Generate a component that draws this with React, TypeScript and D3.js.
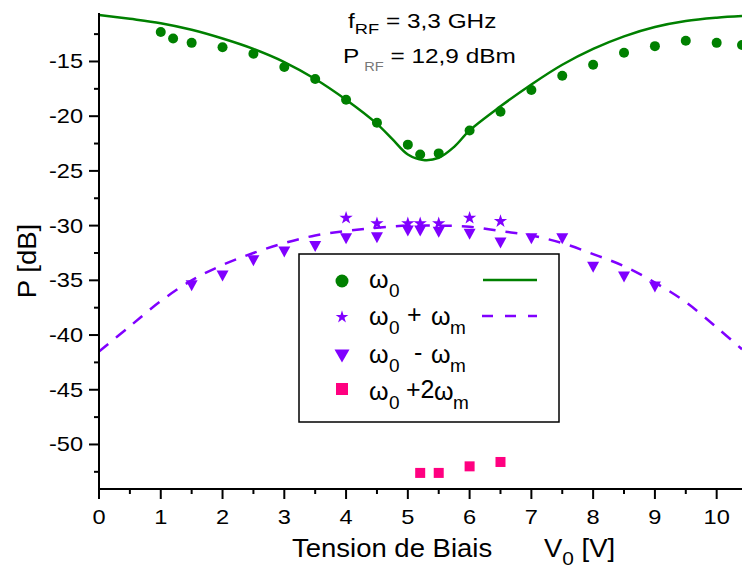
import React from "react";
import * as d3 from "d3";

// ---------- data ----------
const omega0X = [1, 1.2, 1.5, 2, 2.5, 3, 3.5, 4, 4.5, 5, 5.2, 5.5, 6, 6.5, 7, 7.5, 8, 8.5, 9, 9.5, 10, 10.41];
const omega0Y = [-12.3, -12.9, -13.3, -13.7, -14.3, -15.5, -16.6, -18.5, -20.6, -22.6, -23.5, -23.4, -21.3, -19.6, -17.6, -16.3, -15.3, -14.2, -13.6, -13.1, -13.3, -13.5];

const fitGreenX = [0, 0.5, 1, 1.5, 2, 2.5, 3, 3.5, 4, 4.5, 4.75, 5, 5.25, 5.5, 5.75, 6, 6.5, 7, 7.5, 8, 8.5, 9, 9.5, 10, 10.41];
const fitGreenY = [-10.75, -11.1, -11.5, -12.1, -12.9, -13.85, -15.05, -16.6, -18.5, -20.7, -22.1, -23.5, -24.0, -23.8, -22.8, -21.3, -19.1, -17.1, -15.3, -13.85, -12.7, -11.85, -11.3, -11.0, -10.85];

const plusX = [4, 4.5, 5, 5.2, 5.5, 6, 6.5];
const plusY = [-29.3, -29.8, -29.8, -29.8, -29.8, -29.3, -29.6];

const minusX = [1.5, 2, 2.5, 3, 3.5, 4, 4.5, 5, 5.2, 5.5, 6, 6.5, 7, 7.5, 8, 8.5, 9];
const minusY = [-35.5, -34.6, -33.2, -32.4, -31.9, -31.2, -31.1, -30.5, -30.5, -30.6, -30.8, -31.6, -31.2, -31.2, -33.8, -34.7, -35.6];

const plus2X = [5.2, 5.5, 6, 6.5];
const plus2Y = [-52.6, -52.6, -52.0, -51.6];

const fitPurpleX = [0, 0.5, 1, 1.5, 2, 2.5, 3, 3.5, 4, 4.5, 5, 5.5, 6, 6.5, 7, 7.5, 8, 8.5, 9, 9.5, 10, 10.41];
const fitPurpleY = [-41.5, -39.2, -36.9, -35.0, -33.6, -32.5, -31.6, -30.9, -30.5, -30.2, -30.0, -30.0, -30.1, -30.5, -30.9, -31.6, -32.6, -33.7, -35.2, -37.0, -39.3, -41.3];

const xMajorTicks = [0, 1, 2, 3, 4, 5, 6, 7, 8, 9, 10];
const xMinorTicks = [0.5, 1.5, 2.5, 3.5, 4.5, 5.5, 6.5, 7.5, 8.5, 9.5];
const yMajorTicks = [-50, -45, -40, -35, -30, -25, -20, -15];
const yMinorTicks = [-52.5, -47.5, -42.5, -37.5, -32.5, -27.5, -22.5, -17.5, -12.5];

const xDomain = [0, 10.41];
const yDomain = [-54.07, -10.57];

// ---------- styles ----------
const GREEN = "#008000";
const PURPLE = "#8000ff";
const PINK = "#ff0080";
const FONT = "'Liberation Sans', Arial, Helvetica, sans-serif";

const W = 742;
const H = 568;
const left = 99;
const right = 742;
const top = 13;
const bottom = 489;

function tri(cx: number, cy: number, w: number, h: number) {
  return `M${cx - w / 2},${cy - h / 2}L${cx + w / 2},${cy - h / 2}L${cx},${cy + h / 2}Z`;
}

function SText(props: { x: number; y: number; sx?: number; size: number; anchor?: string; children: any; fill?: string; rotate?: number }) {
  const { x, y, sx = 1.15, size, anchor = "start", children, fill = "#000", rotate = 0 } = props;
  return (
    <text
      transform={`translate(${x},${y}) rotate(${rotate}) scale(${sx},1)`}
      fontFamily={FONT}
      fontSize={size}
      textAnchor={anchor}
      fill={fill}
    >
      {children}
    </text>
  );
}

function T(props: { x: number; y: number; size: number; children: any }) {
  return (
    <text x={props.x} y={props.y} fontFamily={FONT} fontSize={props.size} fill="#000">
      {props.children}
    </text>
  );
}

export default function App() {
  const x = d3.scaleLinear().domain(xDomain).range([left, right]);
  const y = d3.scaleLinear().domain(yDomain).range([bottom, top]);

  const greenLine = d3
    .line<number>()
    .x((_, i) => x(fitGreenX[i]))
    .y((d) => y(d))
    .curve(d3.curveCatmullRom.alpha(0.5))(fitGreenY) as string;

  const purpleLine = d3
    .line<number>()
    .x((_, i) => x(fitPurpleX[i]))
    .y((d) => y(d))
    .curve(d3.curveCatmullRom.alpha(0.5))(fitPurpleY) as string;

  const starPlot = d3.symbol().type(d3.symbolStar).size(55)() as string;
  const starLegend = d3.symbol().type(d3.symbolStar).size(50)() as string;

  // legend geometry
  const lgX = 299, lgY = 254, lgW = 260, lgH = 168;
  const rowY = [281, 317, 356, 389];
  const mkX = 342;
  const txX = 369;
  const subX = 389;
  const big = 25;
  const sub = 19;

  return (
    <div style={{ position: "absolute", left: 0, top: 0 }}>
      <svg width={W} height={H} style={{ display: "block", background: "#fff" }}>
        <rect x={0} y={0} width={W} height={H} fill="#fff" />

        {/* fit lines */}
        <path d={greenLine} fill="none" stroke={GREEN} strokeWidth={2.5} />
        <path d={purpleLine} fill="none" stroke={PURPLE} strokeWidth={2.5} strokeDasharray="12,10" />

        {/* omega0 circles */}
        {omega0Y.map((v, i) => (
          <circle key={"g" + i} cx={x(omega0X[i])} cy={y(v)} r={5} fill={GREEN} />
        ))}
        {/* omega0 - omega_m triangles */}
        {minusY.map((v, i) => (
          <path key={"t" + i} d={tri(x(minusX[i]), y(v), 12, 11)} fill={PURPLE} />
        ))}
        {/* omega0 + omega_m stars */}
        {plusY.map((v, i) => (
          <path key={"s" + i} d={starPlot} transform={`translate(${x(plusX[i])},${y(v)})`} fill={PURPLE} />
        ))}
        {/* omega0 + 2 omega_m squares */}
        {plus2Y.map((v, i) => (
          <rect key={"q" + i} x={x(plus2X[i]) - 5} y={y(v) - 5} width={10} height={10} fill={PINK} />
        ))}

        {/* legend */}
        <rect x={lgX} y={lgY} width={lgW} height={lgH} fill="#fff" stroke="#000" strokeWidth={1.5} />
        <circle cx={mkX} cy={rowY[0]} r={6.5} fill={GREEN} />
        <path d={starLegend} transform={`translate(${mkX},${rowY[1]})`} fill={PURPLE} />
        <path d={tri(mkX, rowY[2], 15, 13)} fill={PURPLE} />
        <rect x={mkX - 6} y={rowY[3] - 6} width={12} height={12} fill={PINK} />
        <line x1={483} x2={537} y1={280} y2={280} stroke={GREEN} strokeWidth={2.5} />
        <line x1={482} x2={537} y1={316} y2={316} stroke={PURPLE} strokeWidth={2.5} strokeDasharray="11,12" />

        {/* legend labels */}
        <T x={txX} y={288} size={big}>ω</T>
        <T x={subX} y={297} size={sub}>0</T>

        <T x={txX} y={325} size={big}>ω</T>
        <T x={subX} y={334} size={sub}>0</T>
        <T x={407} y={323} size={big}>+</T>
        <T x={431} y={325} size={big}>ω</T>
        <T x={450} y={334} size={sub}>m</T>

        <T x={txX} y={363} size={big}>ω</T>
        <T x={subX} y={372} size={sub}>0</T>
        <T x={414} y={361} size={big}>-</T>
        <T x={431} y={363} size={big}>ω</T>
        <T x={450} y={372} size={sub}>m</T>

        <T x={txX} y={400} size={big}>ω</T>
        <T x={subX} y={409} size={sub}>0</T>
        <T x={406} y={398} size={big}>+2</T>
        <T x={434} y={400} size={big}>ω</T>
        <T x={453} y={409} size={sub}>m</T>

        {/* axes */}
        <line x1={left} x2={left} y1={top} y2={bottom} stroke="#000" strokeWidth={2} />
        <line x1={left} x2={right} y1={bottom} y2={bottom} stroke="#000" strokeWidth={2} />
        {yMajorTicks.map((t) => (
          <g key={"ym" + t}>
            <line x1={left - 10} x2={left} y1={y(t)} y2={y(t)} stroke="#000" strokeWidth={2} />
            <SText x={left - 16} y={y(t) + 7} size={20} anchor="end" sx={1.18}>
              {String(t)}
            </SText>
          </g>
        ))}
        {yMinorTicks.map((t) => (
          <line key={"yn" + t} x1={left - 5} x2={left} y1={y(t)} y2={y(t)} stroke="#000" strokeWidth={2} />
        ))}
        {xMajorTicks.map((t) => (
          <g key={"xm" + t}>
            <line x1={x(t)} x2={x(t)} y1={bottom} y2={bottom + 10} stroke="#000" strokeWidth={2} />
            <SText x={x(t)} y={bottom + 35} size={20} anchor="middle" sx={1.18}>
              {String(t)}
            </SText>
          </g>
        ))}
        {xMinorTicks.map((t) => (
          <line key={"xn" + t} x1={x(t)} x2={x(t)} y1={bottom} y2={bottom + 5} stroke="#000" strokeWidth={2} />
        ))}

        {/* axis titles */}
        <SText x={36} y={261} size={25} anchor="middle" rotate={-90} sx={1.1}>
          P [dB]
        </SText>
        <SText x={292} y={557} size={25} sx={1.1}>
          Tension de Biais
        </SText>
        <SText x={544} y={557} size={25} sx={1.1}>
          V<tspan fontSize={19} dy={8}>0</tspan>
          <tspan dy={-8}> [V]</tspan>
        </SText>

        {/* annotation */}
        <SText x={348} y={28} size={20} sx={1.22}>
          f<tspan fontSize={15} dy={6}>RF</tspan>
          <tspan dy={-6}> = 3,3 GHz</tspan>
        </SText>
        <SText x={343} y={63} size={20} sx={1.22}>
          P<tspan fontSize={12} dy={8} dx={4} fill="#777">RF</tspan>
          <tspan dy={-8}> = 12,9 dBm</tspan>
        </SText>
      </svg>
    </div>
  );
}
